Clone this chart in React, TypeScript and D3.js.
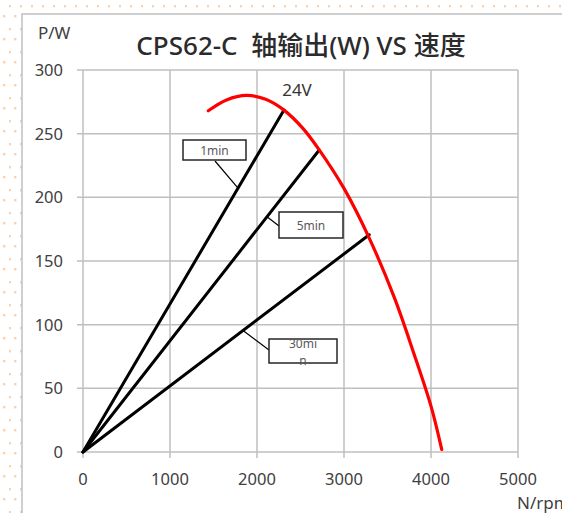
import React, { useRef, useEffect } from "react";
import * as d3 from "d3";

const W = 562;
const H = 513;

// axis ticks
const X_TICKS = [0, 1000, 2000, 3000, 4000, 5000];
const Y_TICKS = [0, 50, 100, 150, 200, 250, 300];

// 24V power curve (rpm, W)
const CURVE_RPM = [1440, 1650, 1880, 2100, 2310, 2530, 2713, 3000, 3290, 3580, 3800, 4000, 4123];
const CURVE_W = [268, 276.5, 280, 277, 268.5, 254, 237.5, 207, 168, 121, 78, 36, 2];

// duty lines: name, end rpm, end W
const DUTY_NAMES = ["1min", "5min", "30min"];
const DUTY_RPM = [2310, 2713, 3290];
const DUTY_W = [268.6, 237, 170.6];

const TITLE = "CPS62-C  轴输出(W) VS 速度";
const FONT = "'Noto Sans', 'Noto Sans CJK SC', sans-serif";

// callout boxes (pixel layout) and where the leader touches the line (rpm)
const CALLOUTS = [
  { box: [183, 140, 63, 20], text: ["1min"], from: [215, 161], at: 1782 },
  { box: [279, 212, 64, 26], text: ["5min"], from: [279, 226], at: 2115 },
  { box: [269, 339, 68, 24], text: ["30mi", "n"], from: [269, 350], at: 1839 },
];

export default function App() {
  const ref = useRef<SVGSVGElement | null>(null);

  useEffect(() => {
    if (!ref.current) return;
    const svg = d3.select(ref.current);
    svg.selectAll("*").remove();

    const x = d3.scaleLinear().domain([0, 5000]).range([83, 518]);
    const y = d3.scaleLinear().domain([0, 300]).range([452, 70]);

    // dotted background
    const defs = svg.append("defs");
    const pat = defs
      .append("pattern")
      .attr("id", "dots")
      .attr("width", 11)
      .attr("height", 23)
      .attr("patternUnits", "userSpaceOnUse");
    pat.append("rect").attr("x", 9).attr("y", 5).attr("width", 2.4).attr("height", 2.4).attr("fill", "#fad2b0");
    pat.append("rect").attr("x", 3).attr("y", 15).attr("width", 2.4).attr("height", 2.4).attr("fill", "#fad2b0");
    svg.append("rect").attr("width", W).attr("height", H).attr("fill", "#fff");
    svg.append("rect").attr("width", W).attr("height", H).attr("fill", "url(#dots)");

    // chart frame
    svg
      .append("rect")
      .attr("x", 22)
      .attr("y", 14)
      .attr("width", 700)
      .attr("height", 700)
      .attr("fill", "#fff")
      .attr("stroke", "#c0c0c0")
      .attr("stroke-width", 1.5);

    const grid = svg.append("g").attr("stroke", "#bfbfbf").attr("stroke-width", 1.5);
    grid
      .selectAll("line.h")
      .data(Y_TICKS)
      .join("line")
      .attr("x1", x(0) - 6)
      .attr("x2", x(5000))
      .attr("y1", (d) => y(d))
      .attr("y2", (d) => y(d));
    grid
      .selectAll("line.v")
      .data(X_TICKS)
      .join("line")
      .attr("x1", (d) => x(d))
      .attr("x2", (d) => x(d))
      .attr("y1", y(300))
      .attr("y2", y(0) + 6);

    // tick labels
    svg
      .append("g")
      .selectAll("text")
      .data(Y_TICKS)
      .join("text")
      .attr("x", x(0) - 20)
      .attr("y", (d) => y(d) + 6)
      .attr("text-anchor", "end")
      .attr("font-family", FONT)
      .attr("font-size", 16.5)
      .attr("fill", "#404040")
      .text((d) => d);
    svg
      .append("g")
      .selectAll("text")
      .data(X_TICKS)
      .join("text")
      .attr("x", (d) => x(d))
      .attr("y", 485)
      .attr("text-anchor", "middle")
      .attr("font-family", FONT)
      .attr("font-size", 16.5)
      .attr("fill", "#404040")
      .text((d) => d);

    // axis names + title
    svg
      .append("text")
      .attr("x", 38)
      .attr("y", 39)
      .attr("font-family", FONT)
      .attr("font-size", 17)
      .attr("fill", "#404040")
      .text("P/W");
    svg
      .append("text")
      .attr("x", 517)
      .attr("y", 509)
      .attr("font-family", FONT)
      .attr("font-size", 17)
      .attr("fill", "#404040")
      .text("N/rpm");
    svg
      .append("text")
      .attr("x", 301)
      .attr("y", 55)
      .attr("text-anchor", "middle")
      .attr("font-family", FONT)
      .attr("font-size", 26)
      .attr("font-weight", 500)
      .attr("fill", "#2b2b2b")
      .style("white-space", "pre")
      .text(TITLE);

    // duty lines
    svg
      .append("g")
      .selectAll("line")
      .data(DUTY_NAMES)
      .join("line")
      .attr("x1", x(0))
      .attr("y1", y(0))
      .attr("x2", (_, i) => x(DUTY_RPM[i]))
      .attr("y2", (_, i) => y(DUTY_W[i]))
      .attr("stroke", "#000")
      .attr("stroke-width", 3)
      .attr("stroke-linecap", "round");

    // red power curve
    const pts: [number, number][] = CURVE_RPM.map((r, i) => [r, CURVE_W[i]]);
    const line = d3
      .line<[number, number]>()
      .x((d) => x(d[0]))
      .y((d) => y(d[1]))
      .curve(d3.curveCatmullRom.alpha(0.5));
    svg
      .append("path")
      .datum(pts)
      .attr("d", line)
      .attr("fill", "none")
      .attr("stroke", "#ff0000")
      .attr("stroke-width", 3.2)
      .attr("stroke-linecap", "round");

    svg
      .append("text")
      .attr("x", 297)
      .attr("y", 96)
      .attr("text-anchor", "middle")
      .attr("font-family", FONT)
      .attr("font-size", 17)
      .attr("fill", "#333")
      .text("24V");

    // callouts
    CALLOUTS.forEach((c, i) => {
      const r = DUTY_W[i] / DUTY_RPM[i];
      const g = svg.append("g");
      g.append("line")
        .attr("x1", c.from[0])
        .attr("y1", c.from[1])
        .attr("x2", x(c.at))
        .attr("y2", y(c.at * r))
        .attr("stroke", "#000")
        .attr("stroke-width", 1.2);
      g.append("rect")
        .attr("x", c.box[0])
        .attr("y", c.box[1])
        .attr("width", c.box[2])
        .attr("height", c.box[3])
        .attr("fill", "#fff")
        .attr("stroke", "#262626")
        .attr("stroke-width", 1.5);
      const cx = c.box[0] + c.box[2] / 2;
      if (c.text.length === 1) {
        g.append("text")
          .attr("x", cx)
          .attr("y", c.box[1] + c.box[3] / 2 + 4.5)
          .attr("text-anchor", "middle")
          .attr("font-family", FONT)
          .attr("font-size", 12)
          .attr("fill", "#595959")
          .text(c.text[0]);
      } else {
        g.append("text")
          .attr("x", cx)
          .attr("y", c.box[1] + 9)
          .attr("text-anchor", "middle")
          .attr("font-family", FONT)
          .attr("font-size", 12)
          .attr("fill", "#595959")
          .text(c.text[0]);
        g.append("text")
          .attr("x", cx)
          .attr("y", c.box[1] + 26)
          .attr("text-anchor", "middle")
          .attr("font-family", FONT)
          .attr("font-size", 12)
          .attr("fill", "#595959")
          .text(c.text[1]);
      }
    });
  }, []);

  return (
    <svg
      ref={ref}
      width={W}
      height={H}
      style={{ position: "fixed", left: 0, top: 0, display: "block" }}
    />
  );
}
